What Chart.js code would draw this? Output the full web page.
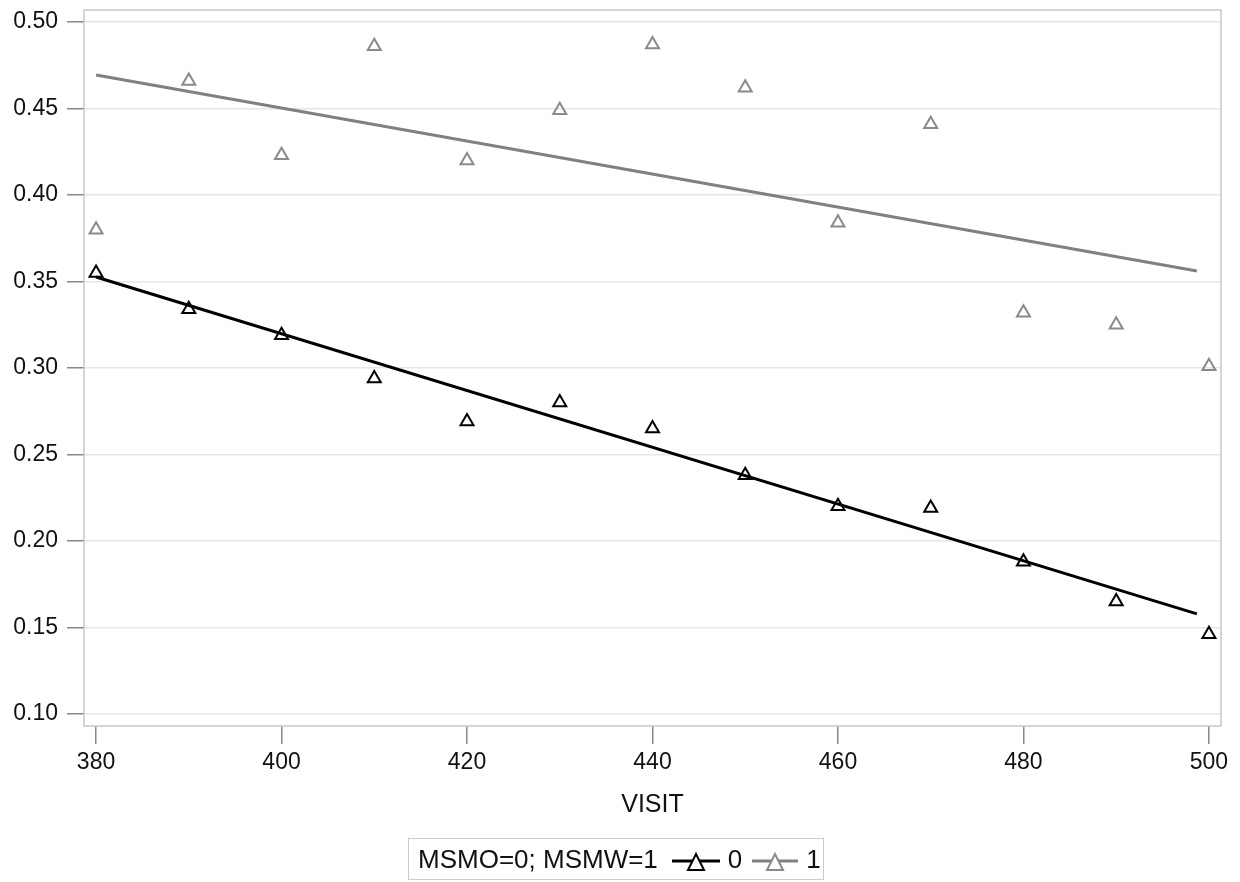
<!DOCTYPE html>
<html>
<head>
<meta charset="utf-8">
<script src="https://cdn.jsdelivr.net/npm/chart.js@4.4.1/dist/chart.umd.min.js"></script>
<style>
    html, body { margin: 0; padding: 0; background: #fff; }
    #wrap { position: relative; width: 1240px; height: 882px; }
    #legend {
        position: absolute;
        top: 838px;
        left: 408px;
        width: 416px;
        height: 42px;
        box-sizing: border-box;
        border: 1.5px solid #cccccc;
        padding: 0 0 0 9px;
        font: 26px "Liberation Sans", Arial, sans-serif;
        color: #111;
        white-space: nowrap;
        display: flex;
        align-items: center;
    }
    #legend svg { display: block; }
</style>
</head>
<body>
<div id="wrap">
    <canvas id="chart" width="1240" height="882"></canvas>
    <div id="legend">
        <span>MSMO=0; MSMW=1</span>
        <svg style="margin-left:14px" width="48" height="28"><line x1="0" y1="16" x2="48" y2="16" stroke="#000" stroke-width="3"/><polygon points="24,9 32,25 16,25" fill="#fff" stroke="#000" stroke-width="2"/></svg>
        <span style="margin-left:8px">0</span>
        <svg style="margin-left:10px" width="46" height="28"><line x1="0" y1="16" x2="46" y2="16" stroke="#808080" stroke-width="3"/><polygon points="23,9 31,25 15,25" fill="#fff" stroke="#8a8a8a" stroke-width="2"/></svg>
        <span style="margin-left:8px">1</span>
    </div>
</div>
<script>
const visits = [380, 390, 400, 410, 420, 430, 440, 450, 460, 470, 480, 490, 500];
const group0 = [0.355, 0.334, 0.319, 0.294, 0.269, 0.280, 0.265, 0.238, 0.220, 0.219, 0.188, 0.165, 0.146];
const group1 = [0.380, 0.466, 0.423, 0.486, 0.420, 0.449, 0.487, 0.462, 0.384, 0.441, 0.332, 0.325, 0.301];
// fitted line endpoints
const fitX = [380, 498.7];
const fit0 = [0.3526, 0.1578];
const fit1 = [0.4694, 0.3561];
const xTicks = [380, 400, 420, 440, 460, 480, 500];
const yTicks = [0.10, 0.15, 0.20, 0.25, 0.30, 0.35, 0.40, 0.45, 0.50];

const toPoints = (xs, ys) => xs.map((x, i) => ({ x: x, y: ys[i] }));
const family = '"Liberation Sans", Arial, sans-serif';
const tickFont = { family: family, size: 23 };

const frame = {
    id: 'frame',
    afterDraw(chart) {
        const { ctx, chartArea: a } = chart;
        ctx.save();
        ctx.strokeStyle = '#c8c8c8';
        ctx.lineWidth = 1.5;
        ctx.strokeRect(a.left, a.top, a.right - a.left, a.bottom - a.top);
        ctx.restore();
    }
};

new Chart(document.getElementById('chart'), {
    type: 'scatter',
    data: {
        datasets: [
            {
                type: 'line', data: toPoints(fitX, fit0), borderColor: '#000', borderWidth: 3,
                pointRadius: 0, fill: false
            },
            {
                type: 'line', data: toPoints(fitX, fit1), borderColor: '#808080', borderWidth: 3,
                pointRadius: 0, fill: false
            },
            {
                data: toPoints(visits, group0), pointStyle: 'triangle', pointRadius: 7.5,
                borderColor: '#000', backgroundColor: 'rgba(255,255,255,0)', borderWidth: 2
            },
            {
                data: toPoints(visits, group1), pointStyle: 'triangle', pointRadius: 7.5,
                borderColor: '#8a8a8a', backgroundColor: 'rgba(255,255,255,0)', borderWidth: 2
            }
        ]
    },
    options: {
        responsive: false,
        animation: false,
        layout: { padding: { top: 10, right: 19, left: 0, bottom: 62 } },
        plugins: { legend: { display: false }, tooltip: { enabled: false } },
        scales: {
            x: {
                type: 'linear',
                min: 378.7,
                max: 501.3,
                afterBuildTicks: s => { s.ticks = xTicks.map(v => ({ value: v })); },
                afterFit: s => { s.height = 94; s.paddingLeft = 0; s.paddingRight = 0; },
                ticks: { font: tickFont, color: '#111', padding: 5, maxRotation: 0 },
                grid: { color: 'rgba(0,0,0,0)', tickColor: '#888', tickLength: 18, lineWidth: 1.5 },
                border: { display: false },
                title: {
                    display: true, text: 'VISIT', font: { family: family, size: 25 }, color: '#111',
                    padding: { top: 12, bottom: 0 }
                }
            },
            y: {
                type: 'linear',
                min: 0.093,
                max: 0.507,
                afterBuildTicks: s => { s.ticks = yTicks.map(v => ({ value: v })); },
                afterFit: s => { s.width = 84; s.paddingTop = 0; s.paddingBottom = 0; },
                ticks: { font: tickFont, color: '#111', padding: 9, callback: v => v.toFixed(2) },
                grid: { color: '#e6e6e6', tickColor: '#888', tickLength: 17, lineWidth: 1.5 },
                border: { display: false }
            }
        }
    },
    plugins: [frame]
});
</script>
</body>
</html>
